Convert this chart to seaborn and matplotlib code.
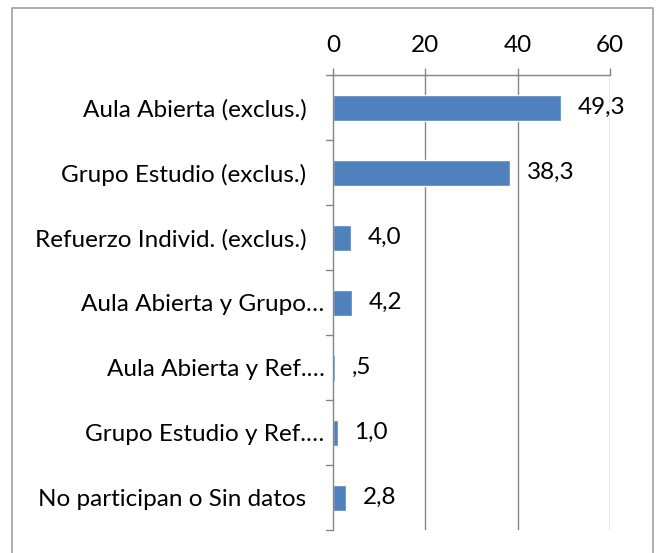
import matplotlib
matplotlib.use("Agg")
import matplotlib.pyplot as plt
import matplotlib.transforms as mtransforms
import seaborn as sns
import pandas as pd

# --- Data ---
categories = [
    "Aula Abierta (exclus.)",
    "Grupo Estudio (exclus.)",
    "Refuerzo Individ. (exclus.)",
    "Aula Abierta y Grupo…",
    "Aula Abierta y Ref.…",
    "Grupo Estudio y Ref.…",
    "No participan o Sin datos",
]
values = [49.3, 38.3, 4.0, 4.2, 0.5, 1.0, 2.8]
x_ticks = [0, 20, 40, 60]

BAR_COLOR = "#4F81BD"
GRID_COLOR = "#868686"
FS = 17.5

sns.set_theme(style="white")
plt.rcParams["font.family"] = ["Lato", "DejaVu Sans"]

df = pd.DataFrame({"cat": categories, "val": values})

fig = plt.figure(figsize=(6.61, 5.53), dpi=100)
ax = fig.add_axes([333 / 661, 1 - 530 / 553, 277 / 661, 455 / 553])

sns.barplot(data=df, x="val", y="cat", color=BAR_COLOR, width=0.4,
            saturation=1, ax=ax)

ax.set_xlim(0, 60)
ax.set_ylim(len(categories) - 0.5, -0.5)
ax.set_xticks(x_ticks)
ax.xaxis.tick_top()
ax.set_xlabel("")
ax.set_ylabel("")
ax.tick_params(axis="x", which="both", top=True, bottom=False, length=5,
               width=1, color=GRID_COLOR, labelsize=FS, pad=9, labelcolor="black")
ax.tick_params(axis="y", left=False, labelsize=FS, pad=13, labelcolor="black")

# vertical gridlines
for t in x_ticks[1:]:
    ax.axvline(t, color=GRID_COLOR, lw=1, zorder=0)

# category boundary tick marks on the y axis
for b in range(len(categories) + 1):
    ax.plot([-0.025, 0], [b - 0.5, b - 0.5], transform=ax.get_yaxis_transform(),
            color=GRID_COLOR, lw=1, clip_on=False)

for side in ["right", "bottom"]:
    ax.spines[side].set_visible(False)
for side in ["left", "top"]:
    ax.spines[side].set_color(GRID_COLOR)
    ax.spines[side].set_linewidth(1)

# truncated labels sit a bit closer to the axis
for lbl in ax.get_yticklabels():
    if lbl.get_text().endswith("…"):
        lbl.set_transform(lbl.get_transform() +
                          mtransforms.ScaledTranslation(18 / 100, 0, fig.dpi_scale_trans))

# value labels
for i, v in enumerate(values):
    txt = f"{v:.1f}".replace(".", ",")
    if txt.startswith("0"):
        txt = txt[1:]
    ax.annotate(txt, (v, i), xytext=(12, 0), textcoords="offset points",
                va="center", ha="left", fontsize=FS, color="black",
                annotation_clip=False)

# chart border
fig.add_artist(plt.Line2D([12 / 661, 12 / 661, 653 / 661, 653 / 661],
                          [0, 1 - 8 / 553, 1 - 8 / 553, 0],
                          transform=fig.transFigure, color="#A0A0A0", lw=1.2))

fig.savefig("out.png", dpi=100)
